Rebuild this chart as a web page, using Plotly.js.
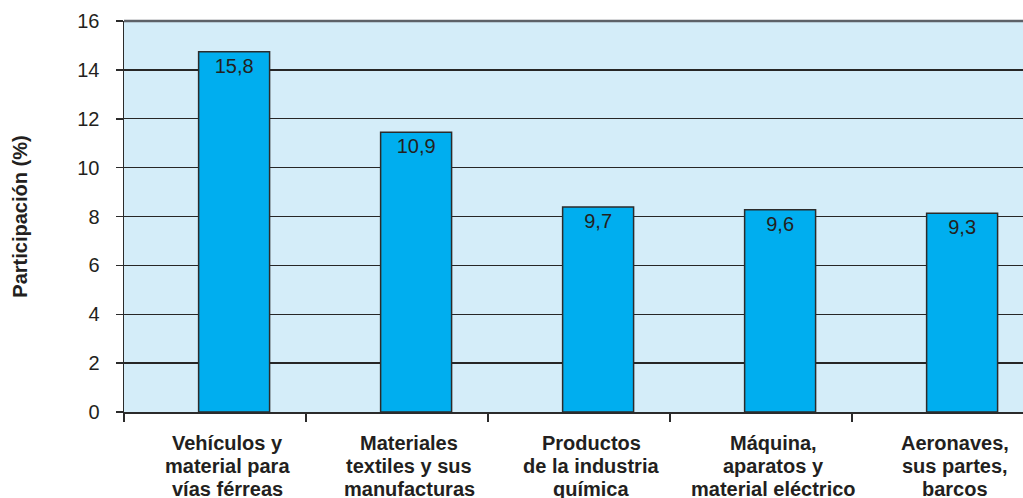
<!DOCTYPE html>
<html>
<head>
<meta charset="utf-8">
<script src="https://cdn.plot.ly/plotly-3.0.1.min.js"></script>
<style>html,body{margin:0;padding:0;background:#fff;}#chart{width:1023px;height:498px;}</style>
</head>
<body>
<div id="chart"></div>
<script>
// Data
const categoryLines = [
  ["Vehículos y", "material para", "vías férreas"],
  ["Materiales", "textiles y sus", "manufacturas"],
  ["Productos", "de la industria", "química"],
  ["Máquina,", "aparatos y", "material eléctrico"],
  ["Aeronaves,", "sus partes,", "barcos"]
];
const categories = categoryLines.map(l => l.join(" "));
const barHeights = [14.74, 11.45, 8.39, 8.28, 8.13];   // drawn bar heights
const valueLabels = ["15,8", "10,9", "9,7", "9,6", "9,3"]; // printed labels
const yTicks = [0, 2, 4, 6, 8, 10, 12, 14, 16];

const FONT = "Liberation Sans, Arial, Helvetica, sans-serif";
const TXT = "#231f20";

const trace = {
  type: "bar",
  x: categories,
  y: barHeights,
  width: 0.39,
  offset: -0.09,
  marker: {color: "#00aeef", line: {color: "#2b2b2b", width: 1.5}},
  text: valueLabels,
  textposition: "inside",
  insidetextanchor: "end",
  textangle: 0,
  constraintext: "none",
  textfont: {family: FONT, size: 20, color: TXT},
  hoverinfo: "none",
  cliponaxis: false
};

const annotations = [];
categoryLines.forEach((lines, i) => {
  lines.forEach((ln, j) => {
    annotations.push({
      x: categories[i], xref: "x", xshift: 12,
      y: 0, yref: "paper", yanchor: "middle", yshift: -31 - 23 * j,
      text: "<b>" + ln + "</b>", showarrow: false,
      font: {family: FONT, size: 20, color: TXT}
    });
  });
});

const layout = {
  width: 1023, height: 498,
  margin: {l: 124, r: 0, t: 21, b: 86, pad: 0},
  paper_bgcolor: "#ffffff",
  plot_bgcolor: "#d4edf9",
  showlegend: false,
  xaxis: {
    type: "category",
    range: [-0.5, -0.5 + 899 / 182],
    showticklabels: false,
    ticks: "outside", tickson: "boundaries", ticklen: 8, tickwidth: 1.5, tickcolor: "#2b2b2b",
    showgrid: false, zeroline: false,
    showline: true, linecolor: "#2b2b2b", linewidth: 1.5,
    fixedrange: true
  },
  yaxis: {
    range: [0, 16],
    tickvals: yTicks,
    ticktext: yTicks.map(String),
    ticks: "outside", ticklen: 7, tickwidth: 1.5, tickcolor: "#2b2b2b",
    ticklabelstandoff: 12,
    tickfont: {family: FONT, size: 20, color: TXT},
    showgrid: true, gridcolor: "#262626", gridwidth: 1.3,
    zeroline: false,
    showline: true, linecolor: "#2b2b2b", linewidth: 1.5,
    title: {text: "<b>Participación (%)</b>", font: {family: FONT, size: 20, color: TXT}, standoff: 44},
    fixedrange: true
  },
  shapes: [{
    type: "line", xref: "paper", yref: "paper", x0: 0, x1: 1, y0: 1, y1: 1,
    line: {color: "#5d6168", width: 2.5}
  }],
  annotations: annotations
};

Plotly.newPlot("chart", [trace], layout, {displayModeBar: false, staticPlot: true});
</script>
</body>
</html>
